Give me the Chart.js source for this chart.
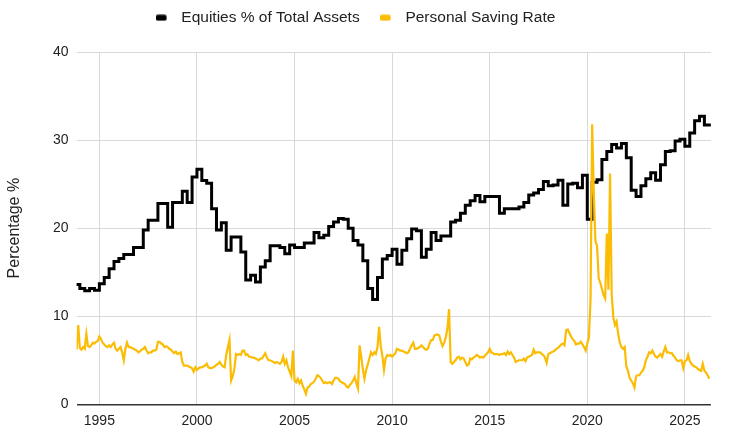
<!DOCTYPE html>
<html>
<head>
<meta charset="utf-8">
<title>Equities % of Total Assets vs Personal Saving Rate</title>
<script src="https://cdn.jsdelivr.net/npm/chart.js@4.4.1/dist/chart.umd.min.js"></script>
<style>
  html, body { margin: 0; padding: 0; background: #fff; }
</style>
</head>
<body>
<canvas id="chart" width="729" height="442"></canvas>
<script>
// x axis runs from Nov 1993 to May 2026 (decimal years)
const X_MIN = 1993 + 10 / 12;
const X_MAX = 2026 + 4 / 12;
const TICK_YEARS = [1995, 2000, 2005, 2010, 2015, 2020, 2025];

// Equities % of total assets, quarterly, first value = 1993 Q4
const EQUITY_START = 1993.75;
const EQUITY_1990S = [13.6, 13.15, 12.9, 13.15, 12.95, 13.7, 14.4, 15.4, 16.2, 16.55, 17.0, 17.0,
  17.8, 17.8, 19.8, 20.9, 20.9, 22.8, 22.8, 20.1, 22.9, 22.9, 24.2, 22.9, 25.8];
const EQUITY_2000S = [26.7, 25.4, 25.1, 22.2, 19.8, 20.6, 17.5, 19.0, 19.0, 17.3, 14.1, 14.65,
  13.9, 15.6, 16.3, 18.0, 18.0, 17.8, 17.1, 18.1, 17.8, 17.8, 18.3, 18.3,
  19.5, 18.9, 19.2, 20.2, 20.7, 21.1, 21.0, 20.0, 18.6, 18.1, 16.3, 13.15,
  11.9, 14.4, 16.5, 16.9];
const EQUITY_2010S = [17.6, 15.9, 17.5, 18.8, 19.9, 19.7, 16.7, 17.6, 19.5, 18.6, 19.1, 19.1,
  20.7, 20.9, 21.7, 22.6, 23.1, 23.7, 23.0, 23.6, 23.6, 23.6, 21.7, 22.2,
  22.2, 22.2, 22.4, 22.9, 23.75, 24.0, 24.4, 25.3, 24.8, 24.9, 25.45, 22.6,
  25.0, 25.1, 24.6, 26.0];
const EQUITY_2020S = [21.0, 25.2, 25.5, 27.8, 28.7, 29.5, 29.1, 29.6, 28.0, 24.3, 23.6, 24.8,
  25.6, 26.3, 25.45, 27.2, 28.7, 28.8, 29.9, 30.1, 29.3, 30.8, 32.2, 32.7, 31.7];

// Personal saving rate, monthly, first value = Nov 1993
const SAVING_START = 1993 + 10 / 12;
const SAVING_1990S = [6.2, 9.0,
  6.4, 6.2, 6.5, 6.3, 8.0, 6.6, 6.5, 6.7, 7.0, 6.9, 7.1, 7.2,
  7.7, 7.4, 7.0, 6.8, 6.6, 6.5, 6.7, 6.5, 6.8, 7.0, 6.3, 6.1,
  6.3, 6.5, 5.9, 5.0, 6.3, 7.0, 6.5, 6.5, 6.4, 6.3, 6.2, 6.1,
  5.9, 6.0, 6.2, 6.3, 6.5, 6.1, 5.8, 5.9, 5.9, 6.1, 6.1, 6.2,
  7.1, 7.1, 6.9, 6.8, 6.5, 6.6, 6.5, 6.3, 6.2, 6.0, 5.8, 6.0,
  5.7, 5.8, 5.9, 4.8, 4.4, 4.4, 4.4, 4.3, 4.2, 4.1, 3.7, 4.2];
const SAVING_2000S = [
  3.9, 4.1, 4.2, 4.2, 4.3, 4.4, 4.6, 4.2, 4.1, 4.1, 4.2, 4.3,
  4.5, 4.6, 4.8, 4.5, 4.3, 4.2, 5.6, 6.5, 7.3, 2.7, 3.2, 4.0,
  5.7, 5.6, 5.7, 5.6, 6.1, 6.1, 5.6, 5.7, 5.4, 5.4, 5.3, 5.3,
  5.2, 5.1, 5.0, 5.2, 5.2, 5.5, 5.8, 5.3, 5.0, 5.0, 4.9, 4.8,
  4.7, 4.8, 4.7, 4.6, 4.8, 5.4, 4.6, 5.0, 4.2, 3.7, 3.2, 6.1,
  2.7, 2.5, 2.9, 2.4, 2.7, 2.1, 1.7, 1.2, 1.9, 2.0, 2.3, 2.4,
  2.6, 2.9, 3.3, 3.2, 3.0, 2.7, 2.4, 2.5, 2.4, 2.5, 2.5, 2.3,
  2.7, 3.0, 3.0, 2.9, 2.6, 2.5, 2.4, 2.3, 2.0, 1.9, 2.2, 2.4,
  2.7, 3.1, 2.4, 1.8, 6.7, 5.4, 4.0, 2.9, 3.9, 4.5, 5.2, 5.9,
  5.6, 5.9, 5.7, 6.5, 8.8, 6.6, 5.5, 3.9, 5.2, 5.6, 5.5, 5.6];
const SAVING_2010S = [
  5.4, 5.6, 5.8, 6.3, 6.2, 6.1, 6.1, 6.0, 5.9, 5.8, 5.9, 6.3,
  6.7, 7.0, 6.3, 6.3, 6.4, 6.5, 6.7, 6.5, 6.3, 6.2, 6.3, 6.9,
  7.3, 7.3, 7.8, 7.9, 7.9, 7.8, 7.1, 6.6, 7.0, 7.6, 8.6, 10.8,
  4.8, 4.6, 4.8, 5.0, 5.3, 5.4, 5.1, 5.3, 5.2, 4.8, 4.4, 4.5,
  5.2, 5.1, 5.3, 5.4, 5.6, 5.5, 5.3, 5.4, 5.3, 5.5, 5.7, 5.9,
  6.3, 5.9, 5.8, 5.7, 5.7, 5.7, 5.6, 5.7, 5.7, 5.8, 5.6, 6.0,
  5.7, 5.9, 5.6, 5.3, 4.8, 4.9, 5.0, 5.0, 5.0, 5.2, 4.9, 5.3,
  5.4, 5.5, 5.6, 6.2, 5.8, 5.9, 5.9, 5.9, 5.7, 5.6, 5.3, 4.7,
  5.7, 5.8, 5.9, 6.0, 6.1, 6.3, 6.4, 6.6, 6.8, 6.9, 6.7, 8.4,
  8.5, 8.1, 7.7, 7.4, 7.2, 6.8, 6.9, 6.9, 7.1, 6.8, 6.5, 6.1];
const SAVING_2020S = [
  6.9, 7.6, 12.0, 31.8, 24.0, 18.5, 18.0, 14.3, 13.8, 13.1, 12.4, 12.0,
  19.4, 13.0, 26.2, 12.5, 9.9, 9.0, 9.4, 8.0, 7.0, 6.5, 6.3, 6.5,
  4.3, 3.8, 3.0, 2.7, 2.4, 1.9, 3.2, 3.3, 3.3, 3.6, 3.8, 4.2,
  5.0, 5.4, 5.9, 5.8, 6.1, 5.7, 5.4, 5.3, 5.5, 5.7, 5.4, 6.0,
  6.5, 5.9, 5.9, 5.8, 5.8, 5.5, 5.3, 5.0, 4.9, 5.0, 5.0, 4.1,
  4.9, 5.0, 5.6, 4.9, 4.6, 4.4, 4.3, 4.2, 4.0, 3.9, 3.8, 4.6,
  3.8, 3.6, 3.3, 2.9];

const EQUITY_COLOR = '#000000';
const SAVING_COLOR = '#fbbc04';
const GRID_COLOR = '#d9d9d9';
const TEXT_COLOR = '#222222';

const equityValues = [...EQUITY_1990S, ...EQUITY_2000S, ...EQUITY_2010S, ...EQUITY_2020S];
const equityPoints = equityValues.map((v, i) => ({ x: EQUITY_START + i / 4, y: v }));
// hold the last quarter until the end of the axis
equityPoints.push({ x: X_MAX, y: equityValues[equityValues.length - 1] });

const savingValues = [...SAVING_1990S, ...SAVING_2000S, ...SAVING_2010S, ...SAVING_2020S];
const savingPoints = savingValues.map((v, i) => ({ x: SAVING_START + i / 12, y: v }));

// small rounded bar used as legend marker, drawn at the left of an 18px slot
function legendMarker(color) {
    const c = document.createElement('canvas');
    c.width = 18;
    c.height = 7;
    const g = c.getContext('2d');
    g.fillStyle = color;
    g.beginPath();
    if (g.roundRect) {
        g.roundRect(0, 0.5, 11, 6, 2);
    } else {
        g.rect(0, 0.5, 11, 6);
    }
    g.fill();
    return c;
}

// extra space between legend and plot area
const legendGap = {
    id: 'legendGap',
    beforeInit(chart) {
        const fitLegend = chart.legend.fit;
        chart.legend.fit = function fit() {
            fitLegend.bind(chart.legend)();
            this.height += 16.5;
        };
    }
};

Chart.defaults.font.family = "'Liberation Sans', Arial, sans-serif";
Chart.defaults.color = TEXT_COLOR;

new Chart(document.getElementById('chart').getContext('2d'), {
    type: 'line',
    data: {
        datasets: [{
            label: 'Equities % of Total Assets',
            data: equityPoints,
            borderColor: EQUITY_COLOR,
            backgroundColor: EQUITY_COLOR,
            borderWidth: 3,
            stepped: 'before',
            pointRadius: 0,
            pointStyle: legendMarker(EQUITY_COLOR),
            fill: false,
            order: 1
        }, {
            label: 'Personal Saving Rate',
            data: savingPoints,
            borderColor: SAVING_COLOR,
            backgroundColor: SAVING_COLOR,
            borderWidth: 2.2,
            tension: 0,
            pointRadius: 0,
            pointStyle: legendMarker(SAVING_COLOR),
            fill: false,
            order: 0
        }]
    },
    options: {
        responsive: false,
        animation: false,
        layout: {
            padding: { top: -10, right: 18.1, bottom: 0, left: 0 }
        },
        plugins: {
            legend: {
                position: 'top',
                labels: {
                    usePointStyle: true,
                    pointStyleWidth: 18,
                    padding: 20,
                    color: TEXT_COLOR,
                    font: { size: 15.5 },
                    sort: (a, b) => a.datasetIndex - b.datasetIndex
                }
            },
            tooltip: { enabled: false }
        },
        scales: {
            x: {
                type: 'linear',
                min: X_MIN,
                max: X_MAX,
                afterBuildTicks: axis => {
                    axis.ticks = TICK_YEARS.map(v => ({ value: v }));
                },
                afterFit: scale => {
                    scale.height = 37.7;
                },
                ticks: {
                    callback: v => String(v),
                    padding: 8,
                    maxRotation: 0,
                    autoSkip: false,
                    font: { size: 14 },
                    color: TEXT_COLOR
                },
                grid: {
                    color: GRID_COLOR,
                    lineWidth: 1,
                    drawTicks: false
                },
                border: { display: false }
            },
            y: {
                min: 0,
                max: 40,
                afterFit: scale => {
                    scale.width = 76.6;
                },
                ticks: {
                    stepSize: 10,
                    padding: 8,
                    font: { size: 14 },
                    color: TEXT_COLOR
                },
                grid: {
                    color: ctx => (ctx.tick && ctx.tick.value === 0 ? '#333333' : GRID_COLOR),
                    lineWidth: ctx => (ctx.tick && ctx.tick.value === 0 ? 1.5 : 1),
                    drawTicks: false
                },
                border: { display: false },
                title: {
                    display: true,
                    text: 'Percentage %',
                    color: TEXT_COLOR,
                    font: { size: 16 },
                    padding: { top: 5, bottom: 0 }
                }
            }
        }
    },
    plugins: [legendGap]
});
</script>
</body>
</html>
